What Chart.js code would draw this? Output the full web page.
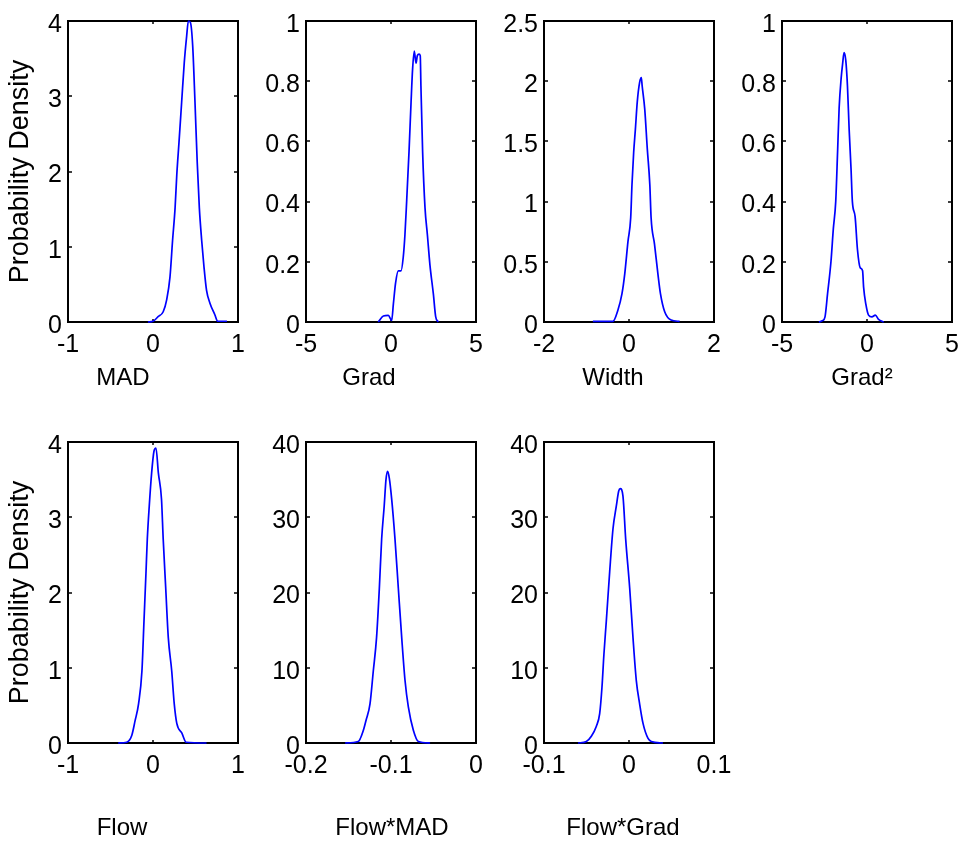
<!DOCTYPE html>
<html>
<head>
<meta charset="utf-8">
<script src="https://cdn.jsdelivr.net/npm/chart.js@4"></script>
<style>
  html, body { margin: 0; padding: 0; background: #fff; }
  #fig { position: relative; width: 958px; height: 842px; background: #fff; overflow: hidden; }
  #fig canvas { position: absolute; }
</style>
</head>
<body>
<div id="fig"></div>
<script>
// ---------- data ----------
const madX = [-0.06, 0.0, 0.06, 0.12, 0.16, 0.2, 0.23, 0.26, 0.28, 0.306, 0.337, 0.368, 0.396, 0.416, 0.44, 0.467, 0.494, 0.52, 0.545, 0.573, 0.6, 0.63, 0.67, 0.73, 0.76, 0.87];
const madY = [0, 0.01, 0.07, 0.136, 0.29, 0.6, 1.08, 1.52, 1.96, 2.39, 2.92, 3.45, 3.8, 4.0, 3.98, 3.67, 2.92, 2.13, 1.52, 1.08, 0.73, 0.42, 0.25, 0.09, 0.01, 0.01];

const gradX = [-0.75, -0.45, -0.16, 0.04, 0.14, 0.27, 0.43, 0.59, 0.72, 0.82, 0.92, 1.06, 1.18, 1.27, 1.37, 1.47, 1.55, 1.65, 1.72, 1.76, 1.86, 2.0, 2.14, 2.29, 2.49, 2.63, 2.78];
const gradY = [0, 0.02, 0.022, 0.005, 0.06, 0.13, 0.17, 0.17, 0.215, 0.29, 0.4, 0.566, 0.73, 0.84, 0.9, 0.86, 0.885, 0.89, 0.885, 0.785, 0.566, 0.38, 0.29, 0.19, 0.094, 0.017, 0];

const widthX = [-0.85, -0.38, -0.26, -0.165, -0.1, -0.024, 0.04, 0.07, 0.11, 0.15, 0.195, 0.25, 0.29, 0.31, 0.37, 0.43, 0.49, 0.52, 0.6, 0.68, 0.74, 0.84, 0.99, 1.19];
const widthY = [0.005, 0.005, 0.1, 0.236, 0.4, 0.67, 0.866, 1.14, 1.41, 1.6, 1.83, 1.99, 2.03, 1.96, 1.77, 1.44, 1.14, 0.866, 0.647, 0.4, 0.236, 0.085, 0.016, 0.005];

const grad2X = [-2.83, -2.6, -2.47, -2.32, -2.12, -1.98, -1.84, -1.73, -1.64, -1.52, -1.43, -1.35, -1.25, -1.15, -1.05, -0.94, -0.86, -0.7, -0.56, -0.4, -0.26, -0.2, -0.07, 0.09, 0.29, 0.49, 0.68, 0.98];
const grad2Y = [0, 0.005, 0.017, 0.094, 0.2, 0.31, 0.4, 0.566, 0.71, 0.81, 0.86, 0.895, 0.87, 0.785, 0.64, 0.51, 0.4, 0.35, 0.24, 0.18, 0.17, 0.116, 0.06, 0.023, 0.017, 0.023, 0.009, 0];

const flowX = [-0.41, -0.31, -0.25, -0.21, -0.17, -0.13, -0.106, -0.082, -0.067, -0.044, -0.016, 0.012, 0.035, 0.063, 0.1, 0.12, 0.15, 0.18, 0.22, 0.25, 0.28, 0.34, 0.39, 0.63];
const flowY = [0, 0.01, 0.1, 0.3, 0.52, 0.96, 1.62, 2.28, 2.71, 3.15, 3.59, 3.88, 3.92, 3.59, 3.24, 2.71, 2.05, 1.4, 0.96, 0.52, 0.26, 0.13, 0.01, 0];

const flowMadX = [-0.154, -0.1385, -0.1325, -0.1294, -0.1247, -0.1208, -0.117, -0.1137, -0.111, -0.108, -0.1059, -0.104, -0.102, -0.0992, -0.0953, -0.0914, -0.0874, -0.0835, -0.0796, -0.0737, -0.0678, -0.054];
const flowMadY = [0, 0.2, 1.7, 3, 5.2, 9.6, 14, 20.6, 27.1, 31.5, 35, 36.1, 35.2, 32.4, 27.1, 20.6, 14, 8.3, 4.8, 1.7, 0.2, 0];

const flowGradX = [-0.06, -0.0502, -0.0443, -0.0385, -0.0345, -0.0318, -0.0295, -0.0267, -0.0227, -0.0188, -0.0149, -0.0121, -0.0102, -0.0071, -0.0039, 0.0008, 0.0047, 0.0086, 0.0125, 0.0165, 0.0224, 0.0263, 0.04];
const flowGradY = [0, 0.2, 0.9, 2.2, 3.9, 7.4, 11.8, 16.2, 22.8, 28.5, 31.5, 33.5, 33.8, 32.8, 27.1, 20.6, 14, 8.3, 5.2, 2.6, 0.6, 0.2, 0];

// tick labels
const madXTicks = [-1, 0, 1],        madYTicks = [0, 1, 2, 3, 4];
const gradXTicks = [-5, 0, 5],       gradYTicks = [0, 0.2, 0.4, 0.6, 0.8, 1];
const widthXTicks = [-2, 0, 2],      widthYTicks = [0, 0.5, 1, 1.5, 2, 2.5];
const grad2XTicks = [-5, 0, 5],      grad2YTicks = [0, 0.2, 0.4, 0.6, 0.8, 1];
const flowXTicks = [-1, 0, 1],       flowYTicks = [0, 1, 2, 3, 4];
const flowMadXTicks = [-0.2, -0.1, 0], flowMadYTicks = [0, 10, 20, 30, 40];
const flowGradXTicks = [-0.1, 0, 0.1], flowGradYTicks = [0, 10, 20, 30, 40];

// axis labels
const xLabels = ['MAD', 'Grad', 'Width', 'Grad\u00B2', 'Flow', 'Flow*MAD', 'Flow*Grad'];
const yLabel = 'Probability Density';

// ---------- layout ----------
const FONT = '"Liberation Sans", Arial, Helvetica, sans-serif';
const AX_W = 170, AX_H = 304, PAD_L = 68, PAD_T = 18, PAD_R = 26;

const panels = [
  { x: madX, y: madY, xt: madXTicks, yt: madYTicks, col: 0, row: 0, dx: -30, ylab: true },
  { x: gradX, y: gradY, xt: gradXTicks, yt: gradYTicks, col: 1, row: 0, dx: -22 },
  { x: widthX, y: widthY, xt: widthXTicks, yt: widthYTicks, col: 2, row: 0, dx: -16 },
  { x: grad2X, y: grad2Y, xt: grad2XTicks, yt: grad2YTicks, col: 3, row: 0, dx: -5 },
  { x: flowX, y: flowY, xt: flowXTicks, yt: flowYTicks, col: 0, row: 1, dx: -31, ylab: true },
  { x: flowMadX, y: flowMadY, xt: flowMadXTicks, yt: flowMadYTicks, col: 1, row: 1, dx: 1 },
  { x: flowGradX, y: flowGradY, xt: flowGradXTicks, yt: flowGradYTicks, col: 2, row: 1, dx: -6 },
];
const colLeft = [68, 306, 544, 782];
const rowTop = [18, 439];
const rowBottomSpace = [80, 99];
const rowTitleY = [378, 407]; // in canvas coordinates

const framePlugin = {
  id: 'matlabFrame',
  beforeDatasetsDraw(chart) {
    const { ctx, chartArea: a, scales: { x, y } } = chart;
    ctx.save();
    ctx.strokeStyle = '#000';
    ctx.lineWidth = 2;
    ctx.strokeRect(a.left, a.top, a.right - a.left, a.bottom - a.top);
    ctx.lineWidth = 1.5;
    ctx.beginPath();
    x.ticks.forEach(t => {
      const px = Math.round(x.getPixelForValue(t.value));
      ctx.moveTo(px, a.bottom); ctx.lineTo(px, a.bottom - 3);
      ctx.moveTo(px, a.top); ctx.lineTo(px, a.top + 3);
    });
    y.ticks.forEach(t => {
      const py = Math.round(y.getPixelForValue(t.value));
      ctx.moveTo(a.left, py); ctx.lineTo(a.left + 4, py);
      ctx.moveTo(a.right, py); ctx.lineTo(a.right - 4, py);
    });
    ctx.stroke();
    ctx.restore();
  },
  afterDraw(chart) {
    const o = chart.options.plugins.matlabFrame;
    if (!o || !o.text) return;
    const { ctx, chartArea: a } = chart;
    ctx.save();
    ctx.font = '24px ' + FONT;
    ctx.fillStyle = '#000';
    ctx.textAlign = 'center';
    ctx.textBaseline = 'middle';
    ctx.fillText(o.text, (a.left + a.right) / 2 + o.dx, o.y);
    ctx.restore();
  }
};

const fig = document.getElementById('fig');
const fmt = v => String(+v.toFixed(6));

panels.forEach((p, i) => {
  const bottom = rowBottomSpace[p.row];
  const w = PAD_L + AX_W + PAD_R;
  const h = PAD_T + AX_H + bottom;
  const cv = document.createElement('canvas');
  cv.width = w; cv.height = h;
  cv.style.width = w + 'px'; cv.style.height = h + 'px';
  cv.style.left = (colLeft[p.col] - PAD_L) + 'px';
  cv.style.top = (rowTop[p.row] - PAD_T) + 'px';
  fig.appendChild(cv);

  new Chart(cv.getContext('2d'), {
    type: 'scatter',
    data: {
      datasets: [{
        data: p.x.map((xv, k) => ({ x: xv, y: p.y[k] })),
        showLine: true,
        borderColor: '#0000FF',
        borderWidth: 1.7,
        pointRadius: 0,
        pointHoverRadius: 0,
        cubicInterpolationMode: 'monotone',
        fill: false,
        clip: false
      }]
    },
    options: {
      responsive: false,
      animation: false,
      events: [],
      devicePixelRatio: 1,
      layout: { padding: { top: PAD_T, right: PAD_R, bottom: 0, left: 0 } },
      plugins: {
        legend: { display: false },
        tooltip: { enabled: false },
        matlabFrame: { text: xLabels[i], dx: p.dx, y: rowTitleY[p.row] }
      },
      scales: {
        x: {
          type: 'linear',
          min: p.xt[0], max: p.xt[p.xt.length - 1],
          afterBuildTicks: s => { s.ticks = p.xt.map(v => ({ value: v })); },
          afterFit: s => { s.height = bottom; },
          grid: { display: false, drawTicks: false },
          border: { display: false },
          ticks: {
            autoSkip: false, maxRotation: 0, padding: 8,
            color: '#000', font: { family: FONT, size: 25 },
            callback: v => fmt(v)
          }
        },
        y: {
          type: 'linear',
          min: p.yt[0], max: p.yt[p.yt.length - 1],
          afterBuildTicks: s => { s.ticks = p.yt.map(v => ({ value: v })); },
          afterFit: s => { s.width = PAD_L; },
          grid: { display: false, drawTicks: false },
          border: { display: false },
          ticks: {
            autoSkip: false, padding: 6, labelOffset: 4,
            color: '#000', font: { family: FONT, size: 25 },
            callback: v => fmt(v)
          },
          title: {
            display: !!p.ylab, text: yLabel, color: '#000',
            font: { family: FONT, size: 27 }, padding: { top: 4, bottom: 0 }
          }
        }
      }
    },
    plugins: [framePlugin]
  });
});
</script>
</body>
</html>
